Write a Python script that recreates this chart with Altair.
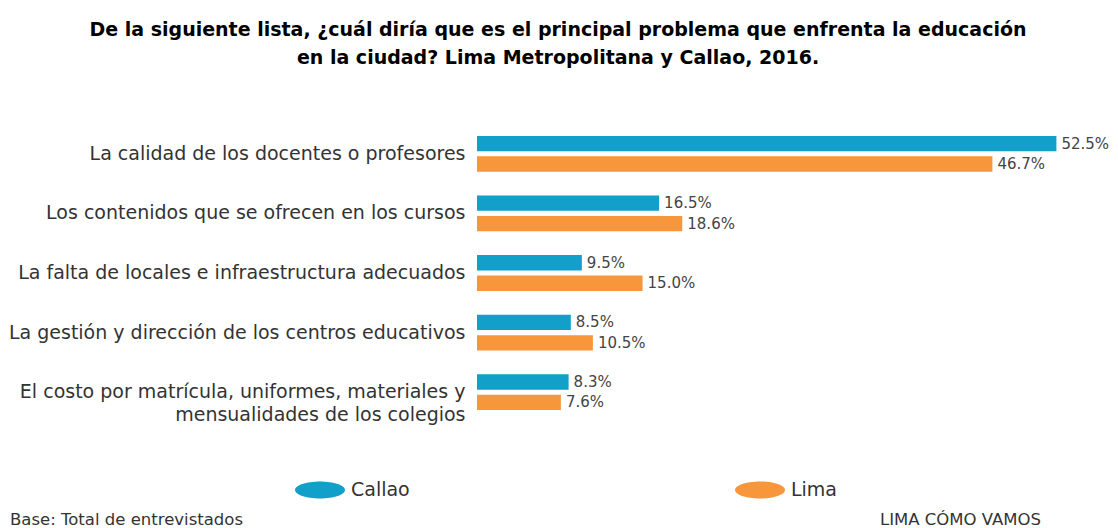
import altair as alt
import pandas as pd

categories = [
    "La calidad de los docentes o profesores",
    "Los contenidos que se ofrecen en los cursos",
    "La falta de locales e infraestructura adecuados",
    "La gestión y dirección de los centros educativos",
    "El costo por matrícula, uniformes, materiales y|mensualidades de los colegios",
]
callao = [52.5, 16.5, 9.5, 8.5, 8.3]
lima = [46.7, 18.6, 15.0, 10.5, 7.6]
series = ["Callao", "Lima"]
colors = ["#129FC9", "#F7963A"]
title_lines = [
    "De la siguiente lista, ¿cuál diría que es el principal problema que enfrenta la educación",
    "en la ciudad? Lima Metropolitana y Callao, 2016.",
]
footer_left = "Base: Total de entrevistados"
footer_right = "LIMA CÓMO VAMOS"

rows = []
for c, a, b in zip(categories, callao, lima):
    rows.append({"cat": c, "serie": "Callao", "v": a})
    rows.append({"cat": c, "serie": "Lima", "v": b})
df = pd.DataFrame(rows)

FONT = "DejaVu Sans"

base = alt.Chart(df).encode(
    y=alt.Y(
        "cat:N",
        sort=categories,
        scale=alt.Scale(paddingInner=0.4, paddingOuter=0.2),
        axis=alt.Axis(
            title=None, domain=False, ticks=False, grid=False,
            labelPadding=12, labelLimit=0, labelFontSize=19, labelFont=FONT,
            labelColor="#333333", labelLineHeight=23,
            labelExpr="split(datum.label, '|')",
        ),
    ),
    yOffset=alt.YOffset("serie:N", scale=alt.Scale(paddingInner=0.25, paddingOuter=0)),
)

bars = base.mark_bar().encode(
    x=alt.X("v:Q", scale=alt.Scale(domain=[0, 55]), axis=None),
    color=alt.Color(
        "serie:N",
        scale=alt.Scale(domain=series, range=colors),
        legend=alt.Legend(
            title=None, orient="none", legendX=-182, legendY=341,
            direction="horizontal", columns=2, columnPadding=325,
            symbolType="M-1,0A1,0.34,0,1,0,1,0A1,0.34,0,1,0,-1,0Z",
            symbolSize=2500, symbolStrokeWidth=0, labelFontSize=19,
            labelFont=FONT, labelColor="#333333", labelOffset=6, padding=0,
        ),
    ),
)

labels = base.mark_text(
    align="left", baseline="middle", dx=5, fontSize=15, font=FONT, color="#444444"
).transform_calculate(
    lbl="format(datum.v, '.1f') + '%'"
).encode(
    x=alt.X("v:Q"),
    text="lbl:N",
)

foot_df = pd.DataFrame({"l": [footer_left], "r": [footer_right]})
foot_l = alt.Chart(foot_df).mark_text(
    align="left", baseline="middle", fontSize=16.5, font=FONT, color="#333333"
).encode(x=alt.value(-467), y=alt.value(396), text="l:N")
foot_r = alt.Chart(foot_df).mark_text(
    align="left", baseline="middle", fontSize=16.5, font=FONT, color="#333333"
).encode(x=alt.value(403), y=alt.value(396), text="r:N")

chart = alt.layer(bars, labels, foot_l, foot_r).properties(
    width=607,
    height=298,
    title=alt.TitleParams(
        text=title_lines, anchor="middle", fontSize=19, font=FONT,
        fontWeight="bold", color="#000000", lineHeight=28, offset=56, dx=-222.5,
    ),
    autosize=alt.AutoSizeParams(type="none"),
    padding={"left": 469, "top": 116, "right": 26, "bottom": 106},
).configure_view(stroke=None)

chart.save("out.html", embed_options={"renderer": "svg", "actions": False})
